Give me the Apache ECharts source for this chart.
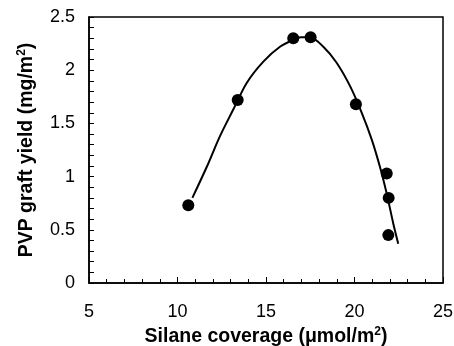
<!DOCTYPE html>
<html>
<head>
<meta charset="utf-8">
<script src="https://cdn.jsdelivr.net/npm/echarts@6/dist/echarts.min.js"></script>
<style>
  html, body { margin: 0; padding: 0; background: #fff; }
  #chart { width: 454px; height: 346px; }
</style>
</head>
<body>
<div id="chart"></div>
<script>
// Measured graft yield vs silane coverage
var coverage = [10.61, 13.40, 16.54, 17.52, 20.08, 21.82, 21.93, 21.91];
var graftYield = [0.73, 1.72, 2.30, 2.31, 1.68, 1.03, 0.80, 0.45];

// Fitted trend curve (sampled along the drawn line)
var fitX = [10.84, 11.65, 12.40, 13.15, 13.91, 14.85, 15.79, 16.73, 17.00, 17.49, 18.24, 18.99, 19.75, 20.41, 20.97, 21.44, 21.82, 22.19, 22.47];
var fitY = [0.80, 1.09, 1.38, 1.63, 1.88, 2.08, 2.22, 2.30, 2.31, 2.31, 2.22, 2.07, 1.85, 1.60, 1.35, 1.09, 0.84, 0.56, 0.37];

var xTicks = [5, 10, 15, 20, 25];
var yTicks = [0, 0.5, 1, 1.5, 2, 2.5];

var font = 'Liberation Sans, Arial, Helvetica, sans-serif';

var points = coverage.map(function (x, i) { return [x, graftYield[i]]; });
var curve = fitX.map(function (x, i) { return [x, fitY[i]]; });

var supStyle = { fontSize: 12, fontWeight: 'bold', fontFamily: font, verticalAlign: 'top', padding: [0, 0, 9, 0] };

var chart = echarts.init(document.getElementById('chart'), null, { renderer: 'canvas' });
chart.setOption({
  animation: false,
  backgroundColor: '#fff',
  grid: {
    left: 89, right: 11, top: 17, bottom: 63,
    containLabel: false, outerBoundsMode: 'none',
    show: true, borderColor: '#000', borderWidth: 1.5, backgroundColor: 'transparent'
  },
  xAxis: {
    type: 'value',
    min: xTicks[0], max: xTicks[xTicks.length - 1], interval: 5,
    axisLine: { lineStyle: { color: '#000', width: 1.5 } },
    axisTick: { inside: true, length: 6, lineStyle: { color: '#000', width: 1 } },
    minorTick: { show: true, splitNumber: 5, length: 4, lineStyle: { color: '#000', width: 1 } },
    splitLine: { show: false },
    axisLabel: {
      color: '#000', fontSize: 18, fontFamily: font, margin: 20,
      formatter: function (v) { return xTicks.indexOf(v) >= 0 ? String(v) : ''; }
    },
    name: 'Silane coverage (\u03bcmol/m{sup|2})',
    nameLocation: 'middle', nameGap: 41,
    nameTextStyle: {
      color: '#000', fontSize: 19.5, fontWeight: 'bold', fontFamily: font,
      rich: { sup: supStyle }
    }
  },
  yAxis: {
    type: 'value',
    min: yTicks[0], max: yTicks[yTicks.length - 1], interval: 0.5,
    axisLine: { show: true, lineStyle: { color: '#000', width: 1.5 } },
    axisTick: { show: true, inside: true, length: 5, lineStyle: { color: '#000', width: 1 } },
    minorTick: { show: true, splitNumber: 5, length: 5, lineStyle: { color: '#000', width: 1 } },
    splitLine: { show: false },
    axisLabel: { color: '#000', fontSize: 18, fontFamily: font, margin: 14 },
    name: 'PVP graft yield (mg/m{sup|2})',
    nameLocation: 'middle', nameGap: 52,
    nameTextStyle: {
      color: '#000', fontSize: 19.5, fontWeight: 'bold', fontFamily: font,
      rich: { sup: supStyle }
    }
  },
  series: [
    {
      type: 'line', data: curve, smooth: 0.3, showSymbol: false,
      lineStyle: { color: '#000', width: 2 }, z: 2
    },
    {
      type: 'scatter', data: points, symbol: 'circle', symbolSize: 12,
      itemStyle: { color: '#000', opacity: 1 }, z: 3
    }
  ]
});
</script>
</body>
</html>
